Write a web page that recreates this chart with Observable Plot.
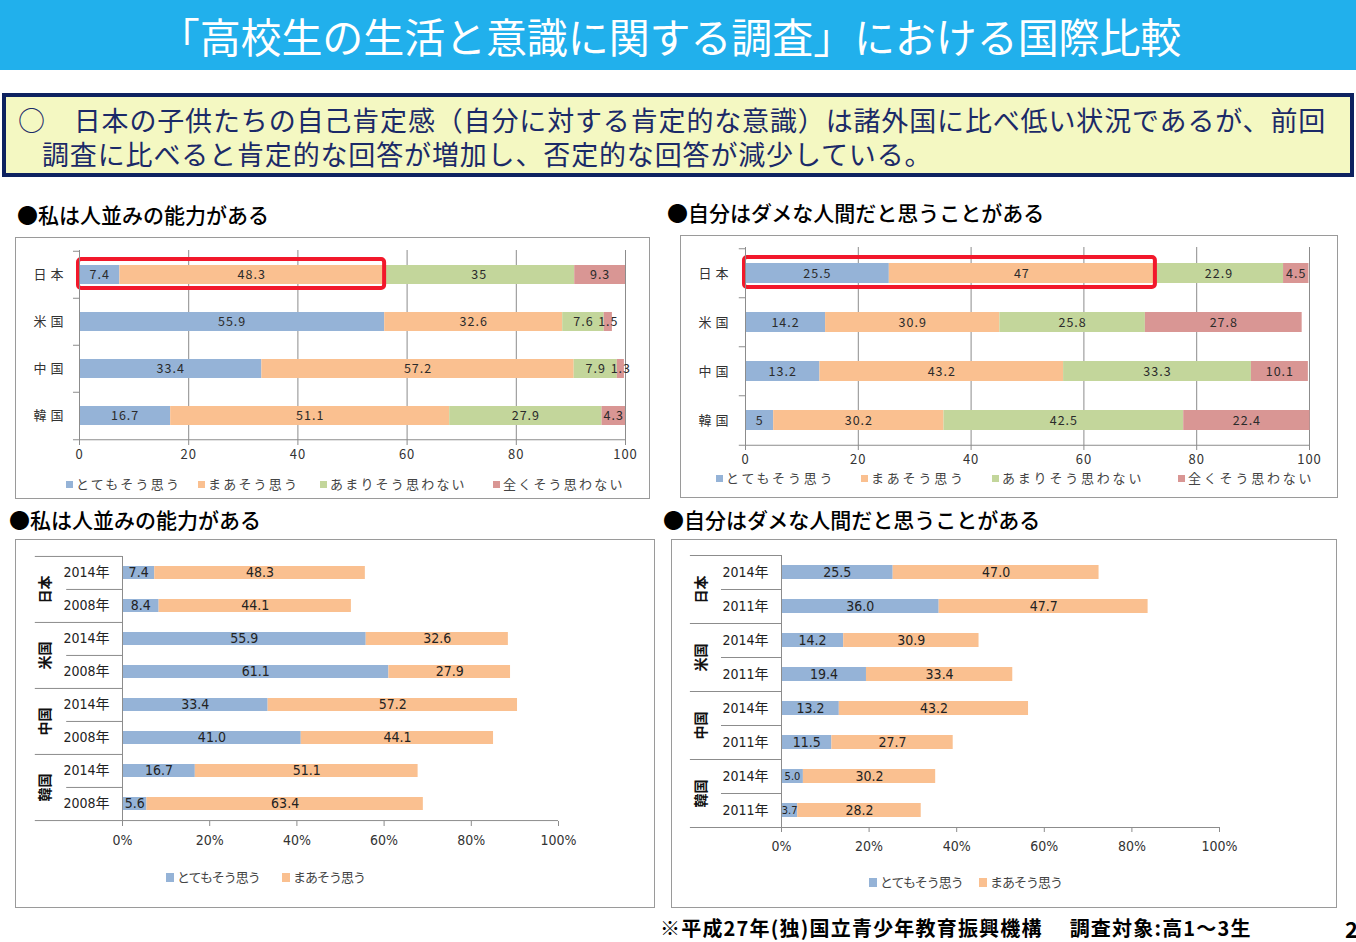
<!DOCTYPE html>
<html><head><meta charset="utf-8">
<script src="https://cdn.jsdelivr.net/npm/d3@7"></script>
<script src="https://cdn.jsdelivr.net/npm/@observablehq/plot@0.6"></script>
<style>
body{margin:0;background:#fff;}
#page{position:relative;width:1356px;height:942px;overflow:hidden;font-family:"Noto Sans CJK JP","Noto Sans",sans-serif;}
.abs{position:absolute;white-space:nowrap;}
#banner{left:0;top:0;width:1340px;padding-right:16px;height:70px;background:#21B0EC;color:#fff;font-size:41px;line-height:70px;text-align:center;letter-spacing:-0.1px;}
#summary{left:2px;top:93px;width:1352px;height:84px;box-sizing:border-box;border:4px solid #0E2260;background:#F4F8C2;}
.sline{color:#1B2A68;font-size:27px;line-height:30px;letter-spacing:0.85px;}
.head{font-size:21px;font-weight:500;color:#000;line-height:24px;}
.frame{box-sizing:border-box;border:1.5px solid #9a9a9a;}
.top-chart text{letter-spacing:1px;}
.top-chart g[aria-label="y-axis tick label"] text{letter-spacing:4px;}
.leg{font-size:13px;color:#444;line-height:16px;display:flex;align-items:center;}
.leg i{display:inline-block;width:7px;height:7px;margin-right:3px;}
.legtop1{letter-spacing:2.2px;}
.legtop2{letter-spacing:2.8px;}
.legbot{font-size:13px;letter-spacing:-1px;}
.legbot i{width:8px;height:9px;margin-right:3px;}
#footer{left:660px;top:915px;font-size:20px;font-weight:700;color:#000;line-height:26px;letter-spacing:1.2px;}
</style></head>
<body><div id="page"></div>
<script>
// ---------- data ----------
const countries = ["日本","米国","中国","韓国"];
const answers = ["とてもそう思う","まあそう思う","あまりそう思わない","全くそう思わない"];

// 私は人並みの能力がある (2014)
const abilityVery     = [7.4, 55.9, 33.4, 16.7];
const abilitySome     = [48.3, 32.6, 57.2, 51.1];
const abilityNotMuch  = [35, 7.6, 7.9, 27.9];
const abilityNotAtAll = [9.3, 1.5, 1.3, 4.3];

// 自分はダメな人間だと思うことがある (2014)
const uselessVery     = [25.5, 14.2, 13.2, 5];
const uselessSome     = [47, 30.9, 43.2, 30.2];
const uselessNotMuch  = [22.9, 25.8, 33.3, 42.5];
const uselessNotAtAll = [4.5, 27.8, 10.1, 22.4];

// 私は人並みの能力がある: 2014年 vs 2008年 (per country: 2014, 2008)
const abilityYears     = ["2014年","2008年"];
const abilityTrendVery = [7.4, 8.4, 55.9, 61.1, 33.4, 41.0, 16.7, 5.6];
const abilityTrendSome = [48.3, 44.1, 32.6, 27.9, 57.2, 44.1, 51.1, 63.4];

// 自分はダメな人間だと思うことがある: 2014年 vs 2011年
const uselessYears     = ["2014年","2011年"];
const uselessTrendVery = [25.5, 36.0, 14.2, 19.4, 13.2, 11.5, 5.0, 3.7];
const uselessTrendSome = [47.0, 47.7, 30.9, 33.4, 43.2, 27.7, 30.2, 28.2];

const xTicks = [0, 20, 40, 60, 80, 100];

// ---------- texts ----------
const titleText = "「高校生の生活と意識に関する調査」における国際比較";
const summaryLines = ["○　日本の子供たちの自己肯定感（自分に対する肯定的な意識）は諸外国に比べ低い状況であるが、前回",
                      "調査に比べると肯定的な回答が増加し、否定的な回答が減少している。"];
const headAbility = "●私は人並みの能力がある";
const headUseless = "●自分はダメな人間だと思うことがある";
const footerText = "※平成27年(独)国立青少年教育振興機構　 調査対象:高1～3生";

// ---------- styles ----------
const colors = ["#95B3D7","#FAC090","#C3D69B","#D99694"];
const axisGray = "#8c8c8c";
const topFont = "'Noto Sans CJK JP', sans-serif";
const botFont = "'Liberation Sans Narrow','DejaVu Sans Condensed','Noto Sans CJK JP',sans-serif";

const page = document.getElementById("page");
function add(html, cls, css) {
  const d = document.createElement("div");
  d.className = "abs " + (cls || "");
  if (css) Object.assign(d.style, css);
  if (html != null) d.innerHTML = html;
  page.appendChild(d);
  return d;
}

add(titleText, "", {}).id = "banner";
add(null, "", {}).id = "summary";
add(summaryLines[0], "sline", {left: "18px", top: "105px"});
add(summaryLines[1], "sline", {left: "42px", top: "139px"});

add(headAbility, "head", {left:"17px", top:"202px"});
add(headUseless, "head", {left:"667px", top:"200px"});
add(headAbility, "head", {left:"9px", top:"507px"});
add(headUseless, "head", {left:"663px", top:"507px"});
add(footerText).id = "footer";
add("2", "", {left:"1345px", top:"915px", fontSize:"22px", fontWeight:"700", lineHeight:"26px"});

function topChart(series, L) {
  const data = [];
  countries.forEach((c, i) => answers.forEach((a, j) => data.push({country: c, answer: a, value: series[j][i]})));
  const step = (L.height - L.marginTop - L.marginBottom) / countries.length;
  const hl = [{country: countries[0], end: series[0][0] + series[1][0]}];
  return Plot.plot({
    width: L.width, height: L.height,
    marginTop: L.marginTop, marginBottom: L.marginBottom, marginLeft: L.marginLeft, marginRight: L.marginRight,
    className: "top-chart",
    style: {fontFamily: topFont, fontSize: "13px", color: "#333", background: "transparent", overflow: "visible"},
    x: {domain: [0, 100]},
    y: {domain: countries, paddingInner: 0.6, paddingOuter: 0.3},
    color: {domain: answers, range: colors},
    marks: [
      Plot.ruleX(xTicks.slice(1), {stroke: axisGray, strokeWidth: 1}),
      Plot.barX(data, Plot.stackX({x: "value", y: "country", fill: "answer"})),
      Plot.text(data, Plot.stackX({x: "value", y: "country", z: "answer", text: d => String(d.value), fill: "#2b2b2b", fontSize: 12.5})),
      Plot.barX(hl, {x1: 0, x2: "end", y: "country", fill: "none", stroke: "#F2182B", strokeWidth: 4, insetTop: -6, insetBottom: -4, insetLeft: -1, insetRight: -1, rx: 3}),
      Plot.ruleX([0], {stroke: axisGray}),
      Plot.ruleY(countries, {y: d => d, dy: -step / 2, x1: -L.tickUnits, x2: 0, stroke: axisGray}),
      Plot.ruleY(countries.slice(-1), {y: d => d, dy: step / 2, x1: -L.tickUnits, x2: 100, stroke: axisGray}),
      Plot.axisX({ticks: xTicks, tickSize: 5, tickPadding: L.xPad, fontSize: 13, stroke: axisGray, label: null}),
      Plot.axisY({tickSize: 0, tickPadding: L.yPad, fontSize: 13, label: null})
    ]
  });
}

function bottomChart(years, very, some, L) {
  const rows = [];
  countries.forEach(c => years.forEach(y => rows.push(c + "|" + y)));
  const data = [];
  rows.forEach((r, i) => {
    data.push({row: r, answer: answers[0], value: very[i]});
    data.push({row: r, answer: answers[1], value: some[i]});
  });
  const step = (L.height - L.marginTop - L.marginBottom) / rows.length;
  const firstRows = countries.map(c => c + "|" + years[0]);
  const secondRows = countries.map(c => c + "|" + years[1]);
  return Plot.plot({
    width: L.width, height: L.height,
    marginTop: L.marginTop, marginBottom: L.marginBottom, marginLeft: L.marginLeft, marginRight: L.marginRight,
    style: {fontFamily: botFont, fontSize: "14px", color: "#333", background: "transparent", overflow: "visible"},
    x: {domain: [0, 100]},
    y: {domain: rows, paddingInner: 0.6, paddingOuter: 0.3, axis: null},
    color: {domain: answers, range: colors},
    marks: [
      Plot.barX(data, Plot.stackX({x: "value", y: "row", fill: "answer"})),
      Plot.text(data, Plot.stackX({x: "value", y: "row", z: "answer", text: d => d.value.toFixed(1), fill: "#222",
        fontSize: d => d.value <= L.smallBelow ? 11 : 14})),
      Plot.ruleX([0], {stroke: axisGray}),
      Plot.ruleY(firstRows, {y: d => d, dy: -step / 2, x1: L.countryX1, x2: 0, stroke: axisGray}),
      Plot.ruleY(secondRows, {y: d => d, dy: -step / 2, x1: L.yearX1, x2: 0, stroke: axisGray}),
      Plot.ruleY(rows.slice(-1), {y: d => d, dy: step / 2, x1: L.countryX1, x2: 100, stroke: axisGray}),
      Plot.text(rows, {y: d => d, x: 0, dx: -13, textAnchor: "end", text: d => d.split("|")[1], fill: "#222", fontSize: 14}),
      Plot.text(firstRows, {y: d => d, x: 0, dx: L.countryDx, dy: step / 2, rotate: -90, text: d => d.split("|")[0],
        fontWeight: "bold", fontSize: 14, fill: "#111", fontFamily: topFont}),
      Plot.axisX({ticks: xTicks, tickFormat: d => d + "%", tickSize: 5, tickPadding: 9, fontSize: 14, stroke: axisGray, label: null})
    ]
  });
}

function place(svg, left, top) {
  const d = add(null, "", {left: left + "px", top: top + "px"});
  d.appendChild(svg);
}
function frame(left, top, w, h) {
  add(null, "frame", {left: left + "px", top: top + "px", width: w + "px", height: h + "px"});
}
function legend(items, y, cls) {
  items.forEach(([x, label, color]) => {
    add(`<i style="background:${color}"></i>${label}`, "leg " + cls, {left: x + "px", top: (y - 8) + "px"});
  });
}

// Chart 1
frame(15, 237, 635, 262);
place(topChart([abilityVery, abilitySome, abilityNotMuch, abilityNotAtAll],
  {width: 635, height: 262, marginTop: 13, marginBottom: 59, marginLeft: 64, marginRight: 25, tickUnits: 1.1, xPad: 4, yPad: 12}), 15, 237);
legend([[66, answers[0], colors[0]], [198, answers[1], colors[1]], [320, answers[2], colors[2]], [493, answers[3], colors[3]]], 484, "legtop1");

// Chart 2
frame(680, 235, 658, 263);
place(topChart([uselessVery, uselessSome, uselessNotMuch, uselessNotAtAll],
  {width: 658, height: 263, marginTop: 12, marginBottom: 53, marginLeft: 65, marginRight: 29, tickUnits: 1.1, xPad: 4, yPad: 13}), 680, 235);
legend([[716, answers[0], colors[0]], [861, answers[1], colors[1]], [992, answers[2], colors[2]], [1178, answers[3], colors[3]]], 478, "legtop2");

// Chart 3
frame(15, 539, 640, 369);
place(bottomChart(abilityYears, abilityTrendVery, abilityTrendSome,
  {width: 640, height: 369, marginTop: 17, marginBottom: 87, marginLeft: 107, marginRight: 97, countryX1: -20, yearX1: -12.8, countryDx: -77, smallBelow: 0}), 15, 539);
legend([[166, answers[0], colors[0]], [282, answers[1], colors[1]]], 877, "legbot");

// Chart 4
frame(671, 539, 666, 369);
place(bottomChart(uselessYears, uselessTrendVery, uselessTrendSome,
  {width: 666, height: 369, marginTop: 16, marginBottom: 81, marginLeft: 110, marginRight: 118, countryX1: -20.8, yearX1: -13.7, countryDx: -80, smallBelow: 5}), 671, 539);
legend([[869, answers[0], colors[0]], [979, answers[1], colors[1]]], 882, "legbot");
</script>
</body></html>
